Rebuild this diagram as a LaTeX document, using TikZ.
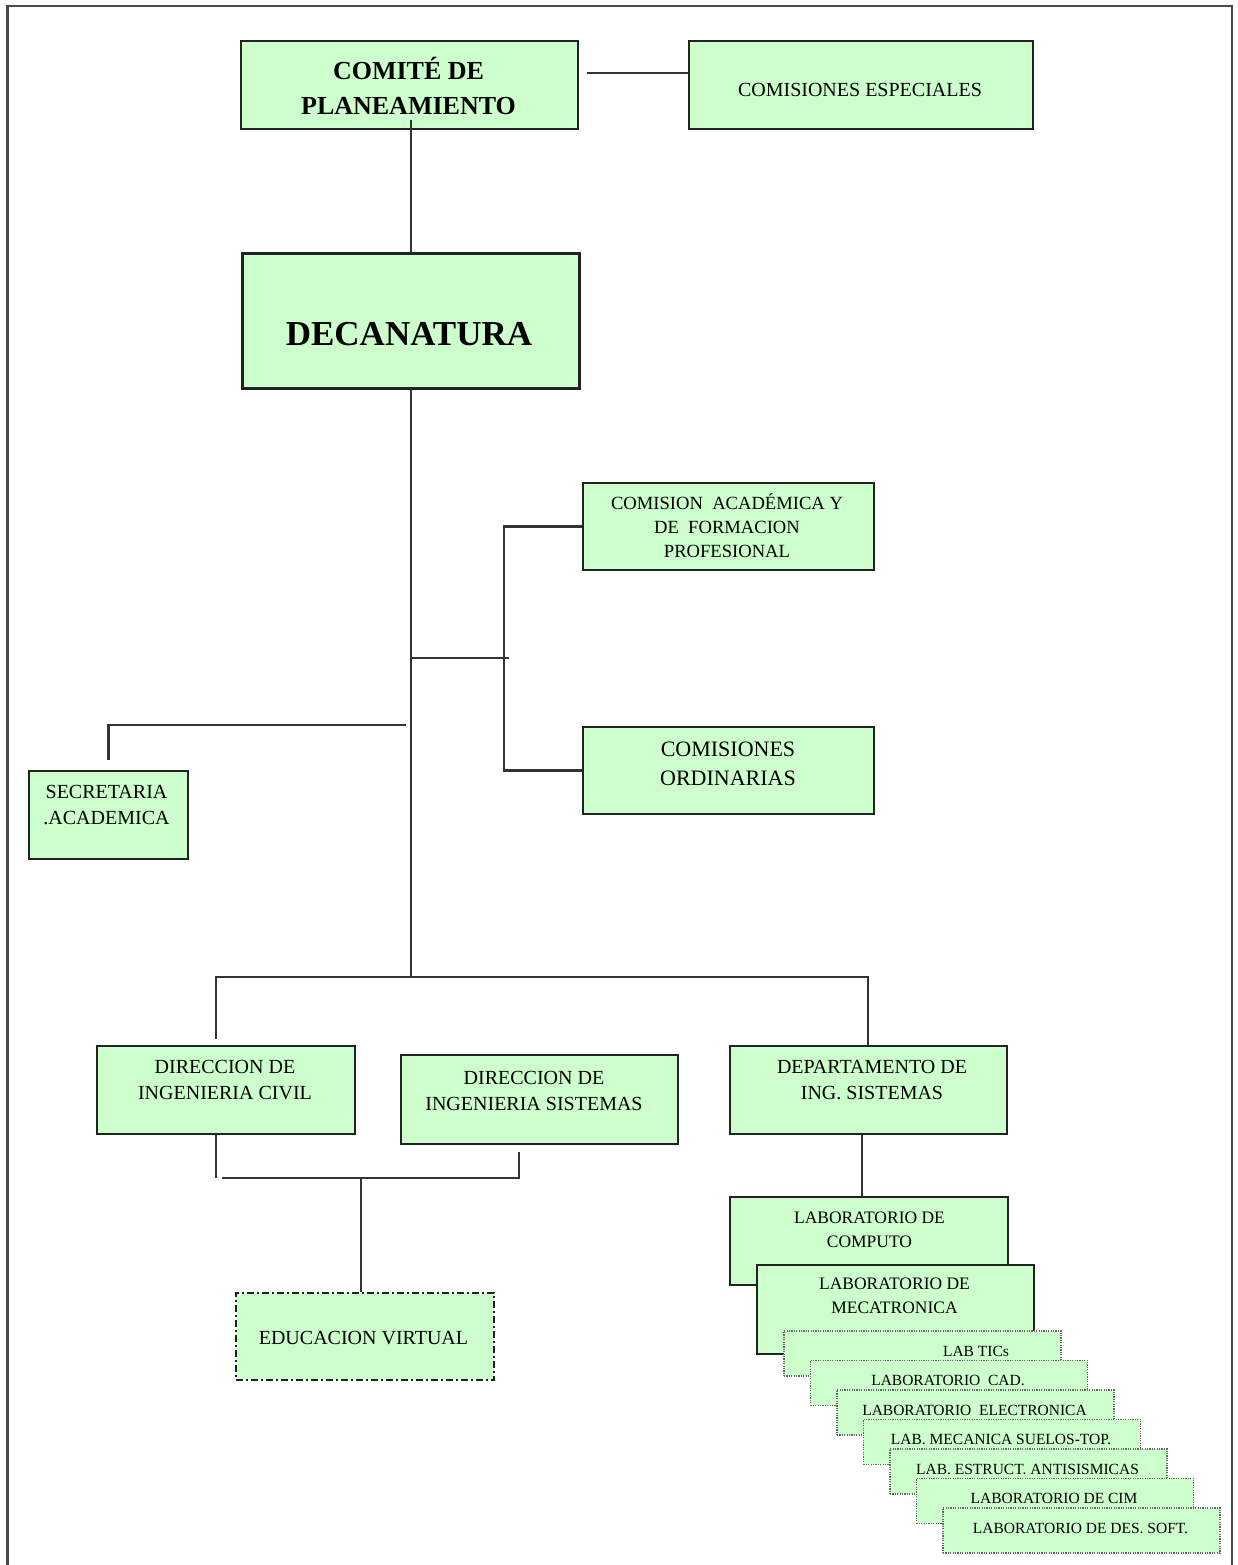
\documentclass[tikz,border=0pt]{standalone}
\usepackage{fontspec}
\setmainfont{Liberation Serif}
\usetikzlibrary{calc}
\definecolor{boxfill}{HTML}{CCFFCC}
\definecolor{boxedge}{HTML}{222222}
\definecolor{wirecol}{HTML}{333333}
\definecolor{framecol}{HTML}{4A4A4A}
\definecolor{dotcol}{HTML}{666666}

\begin{document}
\begin{tikzpicture}[x=1pt,y=-1pt,
  orgbox/.style={draw=boxedge, line width=2pt, fill=boxfill, rectangle,
                 inner sep=0pt, anchor=north west},
  labbox/.style={draw=dotcol, line width=1.8pt, dash pattern=on 1.2pt off 1.2pt,
                 fill=boxfill, rectangle, inner sep=0pt, anchor=north west,
                 minimum width=277pt, minimum height=45pt},
  txt/.style={inner sep=0pt, align=center, text=black},
  fbig/.style={font=\fontsize{20pt}{26pt}\selectfont},
  wire/.style={draw=wirecol, line width=2.3pt},
]
\useasboundingbox (0,0) rectangle (1237,1565);

% page frame
\draw[draw=framecol, line width=2.5pt] (7.5,1565) -- (7.5,6) -- (1232,6) -- (1232,1565);

% ---- boxes ----
\node[orgbox, minimum width=337pt, minimum height=88pt] (comite) at (240,40) {};
\node[txt, font=\bfseries\fontsize{26pt}{35pt}\selectfont] (comite-t) at (408.5,86) {COMITÉ DE\\PLANEAMIENTO};

\node[orgbox, minimum width=344pt, minimum height=88pt] (especiales) at (688,40) {};
\node[txt, fbig] (especiales-t) at (860,90) {COMISIONES ESPECIALES};

\node[orgbox, line width=3pt, minimum width=337pt, minimum height=135pt] (deca) at (241,252) {};
\node[txt, font=\bfseries\fontsize{35pt}{40pt}\selectfont] (deca-t) at (409,334) {DECANATURA};

\node[orgbox, minimum width=291pt, minimum height=87pt] (acad) at (582,482) {};
\node[txt, font=\fontsize{18.6pt}{24pt}\selectfont] (acad-t) at (727,526)
  {COMISION\ \ ACADÉMICA Y\\DE\ \ FORMACION\\PROFESIONAL};

\node[orgbox, minimum width=291pt, minimum height=87pt] (ordin) at (582,726) {};
\node[txt, font=\fontsize{22pt}{29pt}\selectfont] (ordin-t) at (728,763.5) {COMISIONES\\ORDINARIAS};

\node[orgbox, minimum width=159pt, minimum height=88pt] (secre) at (28,770) {};
\node[txt, fbig] (secre-t) at (106.5,805) {SECRETARIA\\.ACADEMICA};

\node[orgbox, minimum width=258pt, minimum height=88pt] (civil) at (96,1045) {};
\node[txt, fbig] (civil-t) at (225,1080) {DIRECCION DE\\INGENIERIA CIVIL};

\node[orgbox, minimum width=277pt, minimum height=89pt] (sist) at (400,1054) {};
\node[txt, fbig] (sist-t) at (534,1091) {DIRECCION DE\\INGENIERIA SISTEMAS};

\node[orgbox, minimum width=277pt, minimum height=88pt] (depto) at (729,1045) {};
\node[txt, fbig] (depto-t) at (872,1080) {DEPARTAMENTO DE\\ING. SISTEMAS};

\node[orgbox, dash pattern=on 7pt off 3pt on 2pt off 3pt, minimum width=258pt, minimum height=87pt] (educ) at (235,1292) {};
\node[txt, fbig] (educ-t) at (363.5,1338) {EDUCACION VIRTUAL};

\node[orgbox, minimum width=278pt, minimum height=88pt] (computo) at (729,1196) {};
\node[txt, font=\fontsize{17.5pt}{24pt}\selectfont] (computo-t) at (869.5,1230) {LABORATORIO DE\\COMPUTO};

\node[orgbox, minimum width=277pt, minimum height=89pt] (meca) at (756,1264) {};
\node[txt, font=\fontsize{17.5pt}{24pt}\selectfont] (meca-t) at (894.5,1296) {LABORATORIO DE\\MECATRONICA};

% stacked laboratory cards, each one shifted right and down from the last
\foreach \i/\lbl in {0/{LAB TICs},
                     1/{LABORATORIO\ \ CAD.},
                     2/{LABORATORIO\ \ ELECTRONICA},
                     3/{LAB. MECANICA SUELOS-TOP.},
                     4/{LAB. ESTRUCT. ANTISISMICAS},
                     5/{LABORATORIO DE CIM},
                     6/{LABORATORIO DE DES. SOFT.}}{
  \node[labbox] (lab\i) at ({783+26.5*\i},{1330+29.5*\i}) {};
  \pgfmathsetmacro{\cx}{ifthenelse(\i==0,976,783+26.5*\i+138.5)}
  \node[txt, font=\fontsize{15.5pt}{18pt}\selectfont] (lab\i-t) at (\cx,{1351+29.5*\i}) {\lbl};
}

% ---- connectors ----
\coordinate (espY) at (0,73);
\coordinate (trunk) at (411,0);
\coordinate (busM) at (411,977);
\coordinate (busL) at (216,977);
\coordinate (busR) at (868,977);
\coordinate (cbus) at (504,658);
\coordinate (cstub) at (509,658);
\coordinate (sj) at (406,725);
\coordinate (mL) at (216,1178);
\coordinate (mR) at (519,1178);
\coordinate (mM) at (361,1178);
\coordinate (dx) at (862,0);

\draw[wire] (comite.east |- espY) ++(8,0) -- (especiales.west |- espY);
\draw[wire] (trunk |- comite.south) ++(0,-10) -- (trunk |- deca.north);
\draw[wire] (trunk |- deca.south) -- (busM);

\draw[wire] (trunk |- cbus) -- (cstub);
\draw[wire] (acad.west) -| (cbus) |- (ordin.west);

\draw[wire] (secre.north) ++(0,-10) |- (sj);

\draw[wire] (busL |- civil.north) ++(0,-6) -- (busL) -- (busR) -- (busR |- depto.north);

\draw[wire] (mL |- civil.south) -- (mL);
\draw[wire] (mR |- sist.south) ++(0,7) -- (mR) -- ([xshift=6pt]mL);
\draw[wire] (mM) -- (mM |- educ.north);

\draw[wire] (dx |- depto.south) -- (dx |- computo.north);
\end{tikzpicture}
\end{document}
